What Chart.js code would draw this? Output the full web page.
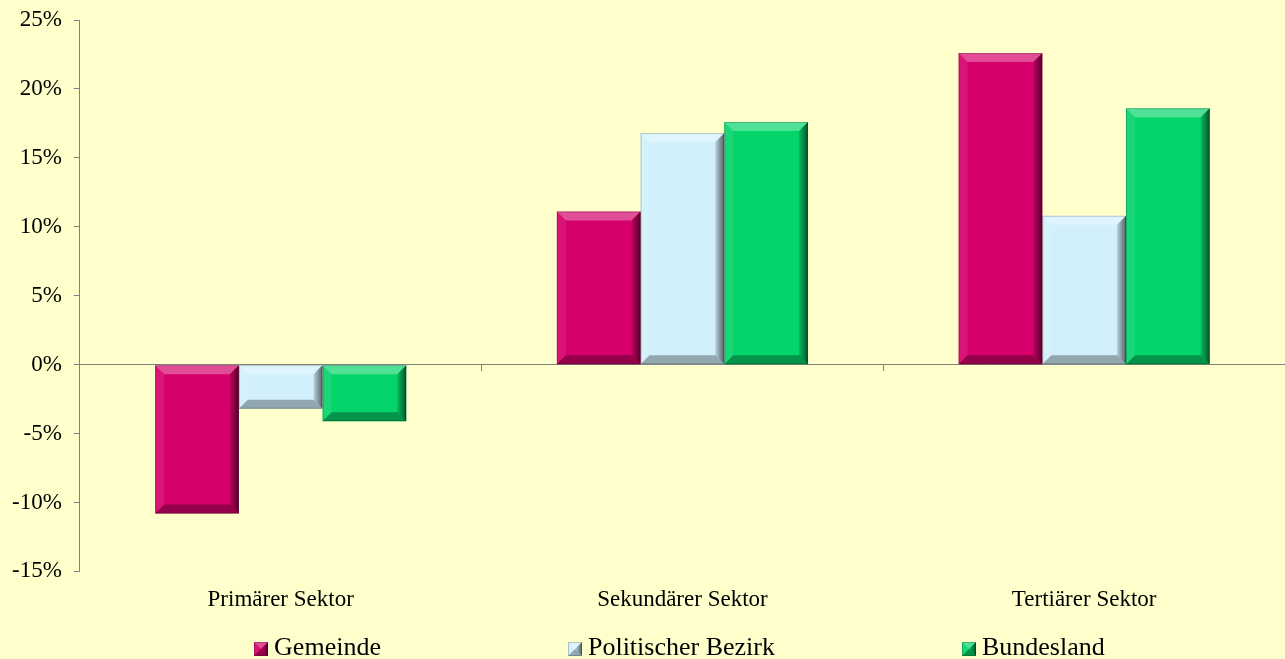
<!DOCTYPE html>
<html>
<head>
<meta charset="utf-8">
<script src="https://cdn.jsdelivr.net/npm/chart.js@4.4.1/dist/chart.umd.min.js"></script>
<style>
  html, body { margin: 0; padding: 0; background: #ffffcc; }
  canvas { display: block; }
</style>
</head>
<body>
<canvas id="sectorChart" width="1285" height="659"></canvas>
<script>
// values (percent)
const sectors = ["Primärer Sektor", "Sekundärer Sektor", "Tertiärer Sektor"];
const seriesNames = ["Gemeinde", "Politischer Bezirk", "Bundesland"];
const gemeinde = [-10.8, 11.1, 22.6];
const bezirk = [-3.2, 16.8, 10.8];
const bundesland = [-4.1, 17.6, 18.6];
const yTicks = [-15, -10, -5, 0, 5, 10, 15, 20, 25];

const colors = ["#d6006c", "#d2f0fc", "#05d46b"];
const serif = "'Liberation Serif', 'Times New Roman', serif";

// bevelled faces like the office "3d" bar look
function drawBevel(ctx, l, t, r, b, k) {
  k = Math.min(k, (b - t) / 2, (r - l) / 2);
  const face = (pts, fill) => {
    ctx.beginPath();
    ctx.moveTo(pts[0][0], pts[0][1]);
    pts.slice(1).forEach(q => ctx.lineTo(q[0], q[1]));
    ctx.closePath();
    ctx.fillStyle = fill;
    ctx.fill();
  };
  ctx.save();
  face([[l, t], [r, t], [r - k, t + k], [l + k, t + k]], "rgba(255,255,255,0.30)");
  face([[l, t], [l + k, t + k], [l + k, b - k], [l, b]], "rgba(255,255,255,0.08)");
  const gr = ctx.createLinearGradient(r - k, 0, r, 0);
  gr.addColorStop(0, "rgba(0,0,0,0.12)");
  gr.addColorStop(1, "rgba(0,0,0,0.6)");
  face([[r, t], [r, b], [r - k, b - k], [r - k, t + k]], gr);
  face([[l, b], [r, b], [r - k, b - k], [l + k, b - k]], "rgba(0,0,0,0.3)");
  ctx.strokeStyle = "rgba(0,0,0,0.2)";
  ctx.lineWidth = 1;
  ctx.strokeRect(l + 0.5, t + 0.5, r - l - 1, b - t - 1);
  ctx.restore();
}

function makeIcon(color) {
  const c = document.createElement("canvas");
  c.width = 14; c.height = 14;
  const g = c.getContext("2d");
  g.fillStyle = color;
  g.fillRect(0, 0, 14, 14);
  drawBevel(g, 0, 0, 14, 14, 7);
  return c;
}
const legendIcons = colors.map(makeIcon);

const bevelBars = {
  id: "bevelBars",
  afterDatasetsDraw(chart, args, opts) {
    const ctx = chart.ctx;
    chart.data.datasets.forEach((ds, di) => {
      const meta = chart.getDatasetMeta(di);
      if (meta.hidden) return;
      meta.data.forEach(bar => {
        const p = bar.getProps(["x", "y", "base", "width"], true);
        const l = p.x - p.width / 2, r = p.x + p.width / 2;
        const t = Math.min(p.y, p.base), b = Math.max(p.y, p.base);
        drawBevel(ctx, l, t, r, b, opts.size);
      });
    });
  }
};

// wide spaced legend centred under the plot area
const spreadLegend = {
  id: "spreadLegend",
  afterDraw(chart, args, opts) {
    const ctx = chart.ctx;
    const area = chart.chartArea;
    ctx.save();
    ctx.font = opts.size + "px " + serif;
    ctx.textBaseline = "middle";
    ctx.fillStyle = "#000";
    const items = chart.data.datasets.map((ds, i) => ({
      text: ds.label,
      icon: legendIcons[i],
      w: 14 + opts.textGap + ctx.measureText(ds.label).width
    }));
    const total = items.reduce((s, it) => s + it.w, 0) + opts.gap * (items.length - 1);
    let x = (area.left + area.right) / 2 - total / 2 + opts.shift;
    const y = chart.height - opts.bottom;
    items.forEach(it => {
      ctx.drawImage(it.icon, Math.round(x), Math.round(y - 6));
      ctx.fillText(it.text, x + 14 + opts.textGap, y);
      x += it.w + opts.gap;
    });
    ctx.restore();
  }
};

const ctx = document.getElementById("sectorChart").getContext("2d");
new Chart(ctx, {
  type: "bar",
  data: {
    labels: sectors,
    datasets: [
      { label: seriesNames[0], data: gemeinde, backgroundColor: colors[0] },
      { label: seriesNames[1], data: bezirk, backgroundColor: colors[1] },
      { label: seriesNames[2], data: bundesland, backgroundColor: colors[2] }
    ]
  },
  options: {
    responsive: false,
    animation: false,
    categoryPercentage: 0.625,
    barPercentage: 1,
    layout: { padding: { top: 20, left: 0, right: 0, bottom: 30 } },
    plugins: {
      legend: { display: false },
      tooltip: { enabled: true },
      bevelBars: { size: 9 },
      spreadLegend: { size: 26, gap: 187, textGap: 6, bottom: 11, shift: -3 }
    },
    scales: {
      x: {
        offset: true,
        grid: { display: false, drawTicks: false },
        border: { display: false },
        ticks: { color: "#000", font: { family: serif, size: 23 }, padding: 15, maxRotation: 0 }
      },
      xZero: {
        axis: "x",
        type: "category",
        position: { y: 0 },
        offset: true,
        grid: { offset: true, drawOnChartArea: false, tickLength: 6, color: "#808080" },
        border: { color: "#808080" },
        ticks: { display: false }
      },
      y: {
        min: yTicks[0],
        max: yTicks[yTicks.length - 1],
        afterFit: s => { s.paddingTop = 0; },
        ticks: {
          stepSize: 5,
          color: "#000",
          font: { family: serif, size: 23 },
          padding: 12,
          callback: v => v + "%"
        },
        grid: { drawOnChartArea: false, tickLength: 6, color: "#808080" },
        border: { color: "#808080" }
      }
    }
  },
  plugins: [bevelBars, spreadLegend]
});
</script>
</body>
</html>
